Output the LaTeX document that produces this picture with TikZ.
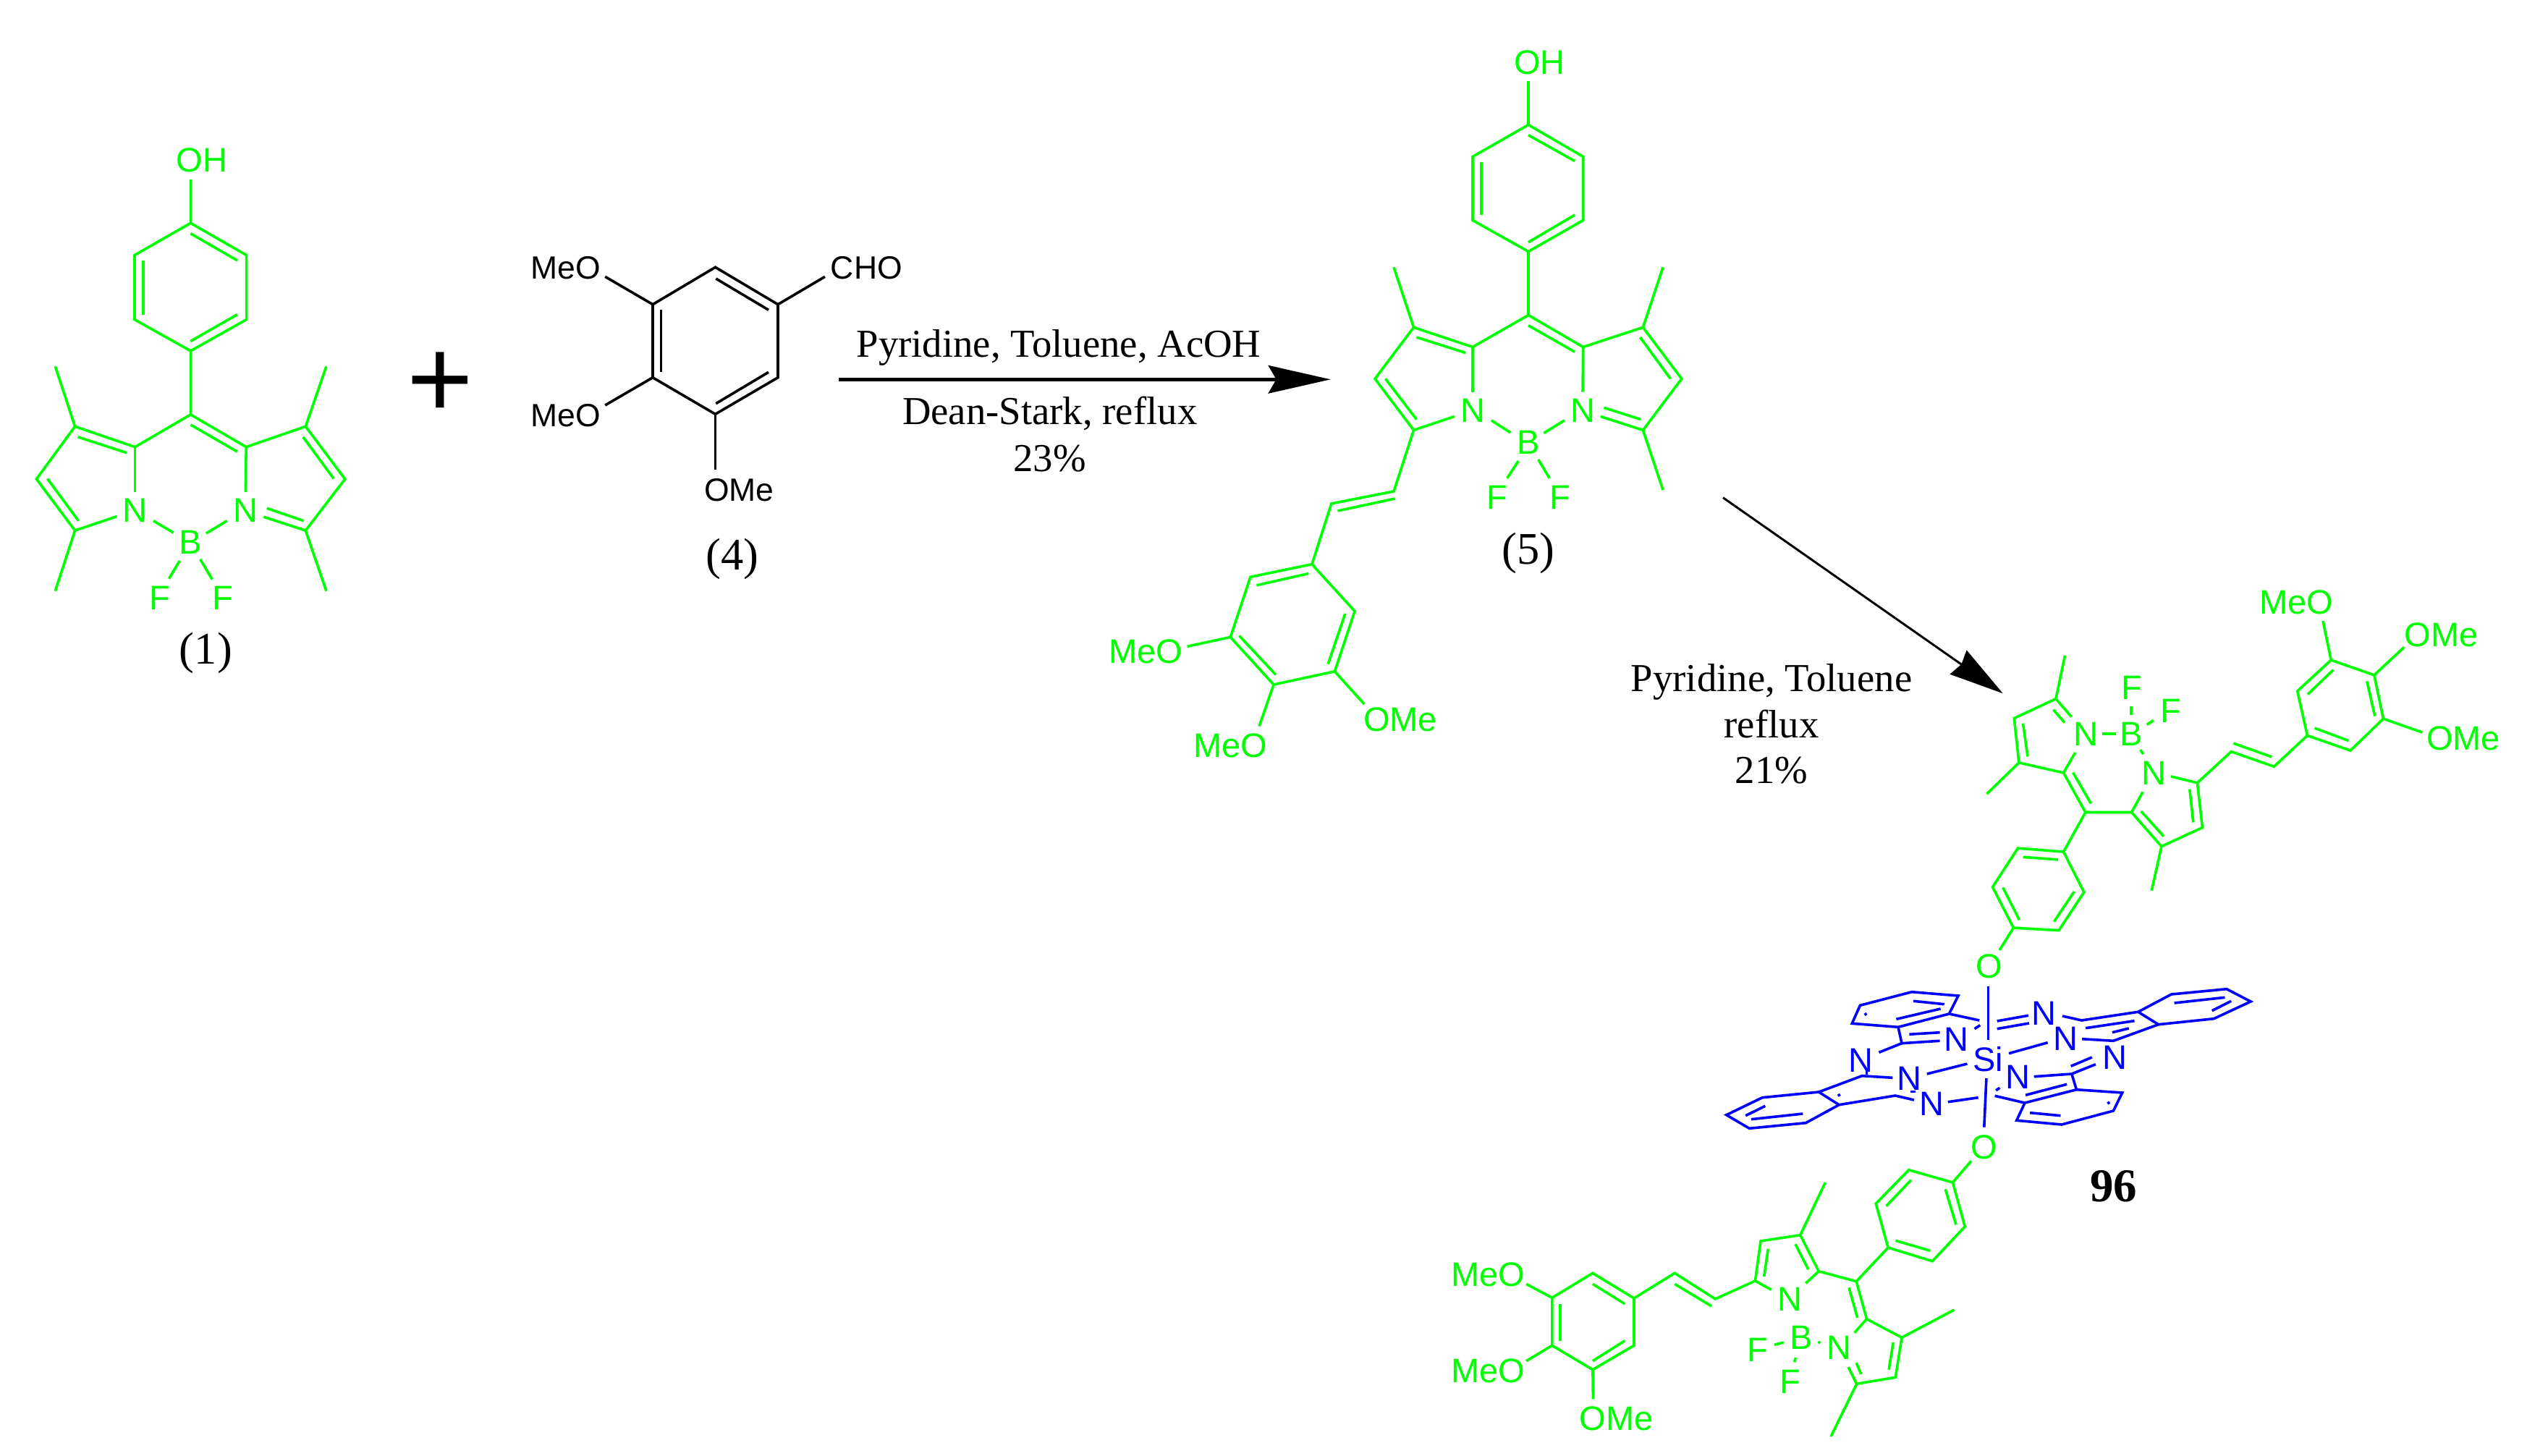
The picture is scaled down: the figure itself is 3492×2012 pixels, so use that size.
\documentclass[tikz,border=0pt]{standalone}
\usepackage{fontspec}
\usetikzlibrary{arrows.meta}
\setmainfont{Liberation Serif}
\newfontfamily\chemsans{Liberation Sans}
\definecolor{dyegreen}{RGB}{0,255,0}
\definecolor{pcblue}{RGB}{0,0,255}
% named free-standing bond segment
\newcommand\seg[4][]{\coordinate (#2a) at (#3); \coordinate (#2b) at (#4); \draw[#1] (#2a) -- (#2b);}
\newcommand\pnt[2]{\coordinate (#1) at (#2);}
\tikzset{
  x=0.2pt,y=-0.2pt,
  bond/.style={line width=0.72pt,line join=miter,line cap=butt},
  gb/.style={bond,draw=dyegreen},
  kb/.style={bond,draw=black},
  bb/.style={bond,draw=pcblue},
  gl/.style={text=dyegreen,font=\chemsans\fontsize{9.4}{10}\selectfont,inner sep=0pt},
  kl/.style={text=black,font=\chemsans\fontsize{8.9}{10}\selectfont,inner sep=0pt},
  bl/.style={text=pcblue,font=\chemsans\fontsize{9.4}{10}\selectfont,inner sep=0pt},
  caplabel/.style={text=black,font=\fontsize{12.5}{13}\selectfont,inner sep=0pt},
  cond/.style={text=black,font=\fontsize{10.95}{12}\selectfont,inner sep=0pt,anchor=base},
}
\begin{document}
\begin{tikzpicture}
\useasboundingbox (0,0) rectangle (3492,2012);
%% ---------- compound 1
\begin{scope}[gb]
\pnt{a1}{263.4,308.3}\pnt{a2}{186,352.6}\pnt{a3}{186,441.6}\pnt{a4}{263.4,484.9}\pnt{a5}{340.6,441.6}\pnt{a6}{340.6,352.6}
\draw (a1)--(a2)--(a3)--(a4)--(a5)--(a6)--cycle;
\pnt{a7}{263.4,572.9}\pnt{a8}{186.6,617.7}\pnt{a9}{340.2,617.7}
\pnt{a10}{103.6,589.3}\pnt{a11}{422.3,589.3}\pnt{a12}{50.4,662}\pnt{a13}{476.8,662}\pnt{a14}{103.6,733.1}\pnt{a15}{422.3,733.1}
\pnt{a16}{76.3,506.3}\pnt{a17}{450.9,506.3}\pnt{a18}{76.3,816.7}\pnt{a19}{450.9,816.7}
\draw (a4)--(a7); \draw (a8)--(a7)--(a9)--(a11)--(a13)--(a15);
\draw (a8)--(a10)--(a12)--(a14);
\draw (a10)--(a16); \draw (a11)--(a17); \draw (a14)--(a18); \draw (a15)--(a19);
\node[gl] (oh1) at (279,221.2) {OH};
\node[gl] (n1l) at (186.6,705.2) {N};
\node[gl] (n1r) at (339.3,705.2) {N};
\node[gl] (b1) at (263.4,749.5) {B};
\node[gl] (f1l) at (220.5,826.6) {F};
\node[gl] (f1r) at (308,826.6) {F};
\pnt{e1}{263.4,248.1}\draw (a1)--(e1);
\pnt{e2}{186.6,679.9}\draw (a8)--(e2);
\pnt{e3}{339.3,679.9}\draw (a9)--(e3);
\pnt{e4}{161.2,713.7}\draw (a14)--(e4);
\pnt{e5}{364.3,714.2}\draw (a15)--(e5);
\seg{s1}{212,719.7}{239.7,736.1}
\seg{s2}{313.8,719.7}{284.8,737.1}
\seg{s3}{248.2,774.9}{233.5,799.7}
\seg{s4}{276.8,772.9}{293.3,800.8}
\seg{i1}{263.4,322.7}{328,360}
\seg{i2}{198.2,360}{198.2,434.6}
\seg{i3}{263.4,471.5}{328,434.6}
\seg{i4}{263.4,586.9}{328,624.2}
\seg{i5}{107.6,603.8}{175,625.7}
\seg{i6}{65.6,661.5}{108.5,719.7}
\seg{i7}{418.8,603.8}{461.2,661.5}
\seg{i8}{368.8,702.3}{419.6,719.7}
\end{scope}
\node[caplabel] (lab1) at (284.4,902.2) {(1)};
\node[text=black,font=\chemsans\fontsize{31.4}{32}\selectfont,inner sep=0pt] (plus) at (608,532) {+};
%% ---------- compound 4
\begin{scope}[kb]
\pnt{c1}{988.5,369.3}\pnt{c2}{902,420.7}\pnt{c3}{902,521.7}\pnt{c4}{988.5,572.3}\pnt{c5}{1075,521.7}\pnt{c6}{1075,420.7}
\draw (c1)--(c2)--(c3)--(c4)--(c5)--(c6)--cycle;
\pnt{c7}{836.2,382.3}\draw (c2)--(c7);
\pnt{c8}{1140,382.3}\draw (c6)--(c8);
\pnt{c9}{836.2,560}\draw (c3)--(c9);
\pnt{c10}{988.5,649.3}\draw (c4)--(c10);
\seg{k1}{913.5,428.3}{913.5,514.3}
\seg{k2}{989.3,385}{1062,428.3}
\seg{k3}{1062,514.3}{989.3,557.7}
\end{scope}
\node[kl] (t1) at (782,370) {MeO};
\node[kl] (t2) at (1197.4,370) {CHO};
\node[kl] (t3) at (782,574.3) {MeO};
\node[kl] (t4) at (1021.4,676.7) {OMe};
\node[caplabel] (lab4) at (1012,772.7) {(4)};
%% ---------- arrow 1
\coordinate (ar1s) at (1159,524.3);
\coordinate (ar1e) at (1838.7,524.3);
\draw[line width=0.95pt,-{Stealth[length=17.2pt,width=7.7pt,inset=2.2pt]}] (ar1s)--(ar1e);
\node[cond] (r1) at (1463,493.3) {Pyridine, Toluene, AcOH};
\node[cond] (r2) at (1450.7,586.7) {Dean-Stark, reflux};
\node[cond] (r3) at (1450.7,651) {23\%};
%% ---------- compound 5
\begin{scope}[gb]
\pnt{d1}{2112,172.5}\pnt{d2}{2035,216.5}\pnt{d3}{2035,304.4}\pnt{d4}{2112,347.6}\pnt{d5}{2187.7,304.4}\pnt{d6}{2187.7,216.5}
\draw (d1)--(d2)--(d3)--(d4)--(d5)--(d6)--cycle;
\pnt{d7}{2112,435.5}\pnt{d8}{2035,479.5}\pnt{d9}{2187.7,479.5}
\pnt{d10}{1953.5,452.4}\pnt{d11}{2270.4,452.4}\pnt{d12}{1900,523.4}\pnt{d13}{2323.8,523.4}\pnt{d14}{1953.5,594.4}\pnt{d15}{2270.4,594.4}
\pnt{d16}{1926,369.3}\pnt{d17}{2298,369.3}\pnt{d18}{2298,677}
\draw (d4)--(d7); \draw (d8)--(d7)--(d9)--(d11)--(d13)--(d15);
\draw (d8)--(d10)--(d12)--(d14);
\draw (d10)--(d16); \draw (d11)--(d17); \draw (d15)--(d18);
\pnt{d20}{1926,679}\pnt{d21}{1839.8,695.9}
\pnt{d22}{1812.9,779.7}\pnt{d23}{1727.9,797.3}\pnt{d24}{1700.3,880.4}\pnt{d25}{1760,946}\pnt{d26}{1844.4,927.8}\pnt{d27}{1872,844.6}
\draw (d14)--(d20)--(d21)--(d22);
\draw (d22)--(d23)--(d24)--(d25)--(d26)--(d27)--cycle;
\pnt{e6}{1640.6,893.3}\draw (d24)--(e6);
\pnt{e7}{1740,1003.5}\draw (d25)--(e7);
\pnt{e8}{1885.2,973}\draw (d26)--(e8);
\pnt{e9}{2112,112.3}\draw (d1)--(e9);
\pnt{e10}{2035,541.7}\draw (d8)--(e10);
\pnt{e11}{2187,541.7}\draw (d9)--(e11);
\pnt{e12}{2009.8,575.5}\draw (d14)--(e12);
\pnt{e13}{2211.8,575.5}\draw (d15)--(e13);
\seg{m1}{2216.4,563.3}{2267,579.5}
\seg{m2}{2060.9,580.9}{2087.3,597.8}
\seg{m3}{2161.9,580.9}{2133.2,598.5}
\seg{m4}{2098.2,637}{2082.7,660.7}
\seg{m5}{2125.7,635}{2141.2,660.7}
\seg{m6}{2112,186.7}{2176.2,222.6}
\seg{m7}{2047,224}{2047,297}
\seg{m8}{2112,334.8}{2176.2,297}
\seg{m9}{2112,449.7}{2176.2,486.3}
\seg{m10}{1957.5,466}{2025.3,487.6}
\seg{m11}{1914.5,523.4}{1957.5,579.6}
\seg{m12}{2266.4,466}{2308.3,523.4}
\seg{m13}{1848.5,706}{1927.7,689}
\seg{m14}{1736.5,808.8}{1808.3,792.5}
\seg{m15}{1858.8,848}{1835.2,917.6}
\seg{m16}{1712.4,878.4}{1763,932.5}
\node[gl] (oh5) at (2127.4,86) {OH};
\node[gl] (n5l) at (2035.6,567.4) {N};
\node[gl] (n5r) at (2187,567.4) {N};
\node[gl] (b5) at (2112,611.3) {B};
\node[gl] (f5l) at (2069,687) {F};
\node[gl] (f5r) at (2156,687) {F};
\node[gl] (t5) at (1583.2,900) {MeO};
\node[gl] (t6) at (1700.3,1030.5) {MeO};
\node[gl] (t7) at (1935,994.7) {OMe};
\end{scope}
\node[caplabel] (lab5) at (2112,764.8) {(5)};
%% ---------- arrow 2
\coordinate (ar2s) at (2381,687.7);
\coordinate (ar2e) at (2767.7,958.2);
\draw[line width=0.6pt,-{Stealth[length=15pt,width=8pt,inset=1pt]}] (ar2s)--(ar2e);
\node[cond] (r4) at (2448,955) {Pyridine, Toluene};
\node[cond] (r5) at (2448,1019.3) {reflux};
\node[cond] (r6) at (2448,1082.7) {21\%};
\node[text=black,font=\bfseries\fontsize{13}{14}\selectfont,inner sep=0pt,anchor=base] (lab96) at (2920.7,1660) {96};
%% ---------- compound 96 upper dye
\begin{scope}[gb]
\pnt{u1}{2853.5,905.7}\pnt{u2}{2840.9,965.7}\pnt{u3}{2783.3,992.5}\pnt{u4}{2789.9,1053.9}\pnt{u5}{2745.5,1097.1}\pnt{u6}{2851.5,1067.9}
\pnt{u7}{2881.8,1122.5}\pnt{u8}{2945.5,1122.5}\pnt{u9}{2986.9,1169.6}\pnt{u10}{2973.2,1230.7}\pnt{u11}{3043.4,1143.6}\pnt{u12}{3036.4,1081.8}
\pnt{u13}{3083.3,1038.6}\pnt{u14}{3142.4,1059.3}
\pnt{u15}{3188.4,1016.4}\pnt{u16}{3174.7,955}\pnt{u17}{3221.2,912.1}\pnt{u18}{3280.8,932.9}\pnt{u19}{3293.4,993.2}\pnt{u20}{3248,1037.1}
\pnt{u21}{3210,857.9}\pnt{u22}{3322.2,894.3}\pnt{u23}{3347.5,1012.1}
\pnt{u24}{2851.5,1177.1}\pnt{u25}{2788.4,1172.1}\pnt{u26}{2753.5,1225.7}\pnt{u27}{2782.3,1282.1}\pnt{u28}{2845,1285.7}\pnt{u29}{2879.8,1232.9}
\pnt{u30}{2763.1,1312.9}\pnt{u31}{2862.6,990.7}\pnt{u32}{2867.7,1040}\pnt{u33}{2961.1,1094.3}\pnt{u34}{3000,1072.9}
\draw (u1)--(u2)--(u3)--(u4)--(u6)--(u7)--(u8)--(u9)--(u11)--(u12)--(u13)--(u14)--(u15);
\draw (u4)--(u5); \draw (u9)--(u10);
\draw (u2)--(u31); \draw (u6)--(u32); \draw (u8)--(u33); \draw (u12)--(u34);
\draw (u15)--(u16)--(u17)--(u18)--(u19)--(u20)--cycle;
\draw (u17)--(u21); \draw (u18)--(u22); \draw (u19)--(u23);
\draw (u7)--(u24); \draw (u24)--(u25)--(u26)--(u27)--(u28)--(u29)--cycle;
\draw (u27)--(u30);
\seg{v1}{2905,1013.9}{2923.7,1013.9}
\seg{v2}{2945,975.7}{2945,987.9}
\seg{v3}{2966.7,1001.4}{2975.8,995.4}
\seg{v4}{2957.6,1036}{2961.6,1042.1}
\seg{v5}{2837.4,980.7}{2853,998.6}
\seg{v6}{2795.5,999.6}{2802,1045.4}
\seg{v7}{2864.6,1067.5}{2889.4,1110.4}
\seg{v8}{2958.6,1121}{2989.9,1155.7}
\seg{v9}{3025.8,1090.7}{3030.8,1136.4}
\seg{v10}{3086.4,1027.1}{3139.4,1046}
\seg{v11}{3188.9,959.6}{3224.2,925.7}
\seg{v12}{3270.7,941.4}{3281.8,989.6}
\seg{v13}{3198.5,1006.1}{3245.5,1023.6}
\seg{v14}{2795.5,1184.3}{2843.9,1187.9}
\seg{v15}{2767.7,1226.4}{2790.4,1271.1}
\seg{v16}{2866.2,1232.1}{2838.4,1273.6}
\node[gl] (uf1) at (2946,950.7) {F};
\node[gl] (uf2) at (2999.5,982.5) {F};
\node[gl] (un1) at (2882.8,1013.9) {N};
\node[gl] (ub) at (2945,1013.9) {B};
\node[gl] (un2) at (2976.3,1068.2) {N};
\node[gl] (ut1) at (3173.2,832.5) {MeO};
\node[gl] (ut2) at (3373.7,877.1) {OMe};
\node[gl] (ut3) at (3404,1020) {OMe};
\node[gl] (ot) at (2748.5,1335.3) {O};
\node[gl] (ob) at (2741.8,1585) {O};
\end{scope}
%% ---------- phthalocyanine
\begin{scope}[bb]
\seg{p1}{2747.4,1363.3}{2747.4,1436.7}
\seg{p2}{2744.9,1490}{2741.8,1557.7}
\pnt{b1}{2570.4,1389.3}\pnt{b2}{2641.8,1370.7}\pnt{b3}{2706.1,1376}\pnt{b4}{2693.4,1401}\pnt{b5}{2623,1419.3}\pnt{b6}{2559.2,1414.3}
\draw (b1)--(b2)--(b3)--(b4)--(b5)--(b6)--cycle;
\seg{p3}{2643.9,1383.3}{2686.7,1387.7}
\seg{p4}{2620.4,1408.3}{2681.6,1394}
\seg{p5}{2577,1400}{2579,1403}
\pnt{b7}{2628,1441.7}\draw (b5)--(b7);
\pnt{b8}{2680.6,1438.3}\draw (b7)--(b8);
\pnt{b9}{2596.4,1454.3}\draw (b7)--(b9);
\seg{p6}{2638.3,1429.3}{2680.6,1426.7}
\pnt{b10}{2735.2,1410}\draw (b4)--(b10);
\seg{p7}{2728.6,1421.7}{2736.2,1416.7}
\seg{p8}{2759.7,1411}{2803,1403.3}
\seg{p9}{2759.7,1421.7}{2804,1414}
\pnt{c20}{2850,1404}\pnt{c21}{2876.5,1410}\pnt{c22}{2954.6,1398.3}\pnt{c23}{2982.7,1415.7}\pnt{c24}{2920.4,1438.3}\pnt{c25}{2877,1435.7}
\draw (c20)--(c21)--(c22)--(c23)--(c24)--(c25);
\seg{p10}{2882.1,1420.7}{2949.5,1410.7}
\seg{p11}{2918.9,1426.7}{2941.8,1421}
\pnt{c26}{3000.5,1374}\pnt{c27}{3077,1366.7}\pnt{c28}{3110.2,1384}\pnt{c29}{3059.2,1407.7}
\draw (c22)--(c26)--(c27)--(c28)--(c29)--(c23);
\seg{p12}{3004.6,1386}{3074.5,1378.3}
\seg{p13}{3056.6,1396.7}{3083.2,1383.3}
\seg{p14}{2776,1455.7}{2829.6,1440.7}
\seg{p15}{2662.8,1484}{2718.4,1470}
\seg{p16}{2861.7,1473.3}{2890.8,1461}
\pnt{c30}{2862.8,1484}\pnt{c31}{2895.9,1470.7}\draw (c30)--(c31);
\pnt{c32}{2810.7,1487.7}\draw (c30)--(c32);
\pnt{c33}{2869.4,1505.7}\pnt{c34}{2932.7,1510}\pnt{c35}{2920.4,1535}\pnt{c36}{2849,1554}\pnt{c37}{2786.7,1548.3}\pnt{c38}{2798,1524}
\draw (c30)--(c33);
\draw (c33)--(c34)--(c35)--(c36)--(c37)--(c38)--cycle;
\seg{p17}{2799,1513.3}{2856.1,1498.3}
\seg{p18}{2805.1,1537.7}{2847.4,1541.7}
\seg{p19}{2912.8,1522.5}{2914.8,1525.5}
\pnt{c39}{2756.6,1514.3}\draw (c38)--(c39);
\seg{p20}{2758.2,1506.7}{2763.3,1503.3}
\seg{p21}{2691.8,1522.7}{2733.7,1516.7}
\pnt{c40}{2644.9,1520}\pnt{c41}{2618.9,1514}\pnt{c42}{2541.3,1526.7}\pnt{c43}{2513.3,1509}\pnt{c44}{2573,1486.7}\pnt{c45}{2615.3,1489.3}
\draw (c40)--(c41)--(c42)--(c43)--(c44)--(c45);
\seg{p22}{2579.6,1478.3}{2579.6,1485}
\seg{p23}{2639.8,1508.3}{2647.4,1508.3}
\seg{p24}{2540.3,1511.8}{2542.3,1514.8}
\pnt{c46}{2435.2,1516.7}\pnt{c47}{2385.7,1540.7}\pnt{c48}{2417.3,1559.3}\pnt{c49}{2495.4,1551.7}
\draw (c43)--(c46)--(c47)--(c48)--(c49)--(c42);
\seg{p25}{2419.9,1546.7}{2491.3,1539}
\seg{p26}{2412.2,1541.7}{2439.3,1528.3}
\node[bl] (pn1) at (2703.6,1436.7) {N};
\node[bl] (pn2) at (2824.5,1400) {N};
\node[bl] (pn3) at (2854,1435) {N};
\node[bl] (pn4) at (2922.4,1461.7) {N};
\node[bl] (pn5) at (2788.8,1488.3) {N};
\node[bl] (pn6) at (2669.9,1525.7) {N};
\node[bl] (pn7) at (2638.3,1490) {N};
\node[bl] (pn8) at (2571.4,1465) {N};
\node[bl] (si) at (2747,1463.3) {Si};
\end{scope}
%% ---------- compound 96 lower dye
\begin{scope}[gb]
\pnt{w1}{2698.4,1634}\pnt{w2}{2637.7,1616.7}\pnt{w3}{2592.2,1663.3}\pnt{w4}{2609.1,1724}\pnt{w5}{2670.3,1742.7}\pnt{w6}{2715.2,1695}
\draw (w1)--(w2)--(w3)--(w4)--(w5)--(w6)--cycle;
\pnt{w7}{2723.9,1604.3}\draw (w1)--(w7);
\pnt{w8}{2565.2,1770.7}\pnt{w9}{2513.2,1756.7}\pnt{w10}{2487.7,1706.7}\pnt{w11}{2522.3,1634}\pnt{w12}{2433,1715}\pnt{w13}{2425.4,1770}\pnt{w14}{2370.3,1795}\pnt{w15}{2314.2,1759.3}\pnt{w16}{2258,1794}
\draw (w4)--(w8)--(w9)--(w10)--(w12)--(w13)--(w14)--(w15)--(w16);
\draw (w10)--(w11);
\pnt{w17}{2200.9,1759.3}\pnt{w18}{2144.8,1793.3}\pnt{w19}{2144.8,1859.3}\pnt{w20}{2200.9,1892.7}\pnt{w21}{2258,1859.3}
\draw (w16)--(w17)--(w18)--(w19)--(w20)--(w21)--cycle;
\pnt{w22}{2109.1,1774.3}\draw (w18)--(w22);
\pnt{w23}{2109.1,1880.7}\draw (w19)--(w23);
\pnt{w24}{2201.4,1933.3}\draw (w20)--(w24);
\pnt{w25}{2447.9,1782.3}\draw (w13)--(w25);
\pnt{w26}{2495.3,1773.3}\draw (w9)--(w26);
\pnt{w27}{2579.5,1822.7}\pnt{w28}{2628,1848.3}\pnt{w29}{2700.4,1810}\pnt{w30}{2619.3,1903.3}\pnt{w31}{2565.7,1912.3}\pnt{w32}{2530,1985}
\draw (w8)--(w27)--(w28)--(w30)--(w31)--(w32);
\draw (w28)--(w29);
\pnt{w33}{2562.7,1841.7}\draw (w27)--(w33);
\pnt{w34}{2554,1889}\draw (w31)--(w34);
\seg{x1}{2640.7,1630.7}{2606.5,1666.7}
\seg{x2}{2688.2,1643.3}{2703,1692.3}
\seg{x3}{2619.3,1714.3}{2667.2,1728.3}
\seg{x4}{2156,1801.7}{2156,1852.7}
\seg{x5}{2200.9,1774.3}{2245.3,1801.7}
\seg{x6}{2200.9,1880.7}{2245.3,1852.7}
\seg{x7}{2314.2,1774.3}{2365.2,1805}
\seg{x8}{2443.3,1725.7}{2437.7,1764}
\seg{x9}{2481,1719.3}{2498.9,1754.3}
\seg{x10}{2555,1779.3}{2566.7,1821}
\seg{x11}{2616.2,1855}{2610.1,1892.7}
\seg{x12}{2571.8,1899}{2565.2,1883.3}
\seg{x13}{2452,1858.3}{2464.7,1855}
\seg{x14}{2513.2,1853.3}{2514.7,1856.7}
\seg{x15}{2481.5,1876}{2479.5,1882.3}
\node[gl] (ln1) at (2473.9,1795.7) {N};
\node[gl] (ln2) at (2541.2,1862.3) {N};
\node[gl] (lb) at (2488.7,1848.3) {B};
\node[gl] (lf1) at (2429,1865) {F};
\node[gl] (lf2) at (2473.4,1909.3) {F};
\node[gl] (lt1) at (2056.5,1761) {MeO};
\node[gl] (lt2) at (2056.5,1894.3) {MeO};
\node[gl] (lt3) at (2233.6,1960) {OMe};
\end{scope}
\end{tikzpicture}
\end{document}
